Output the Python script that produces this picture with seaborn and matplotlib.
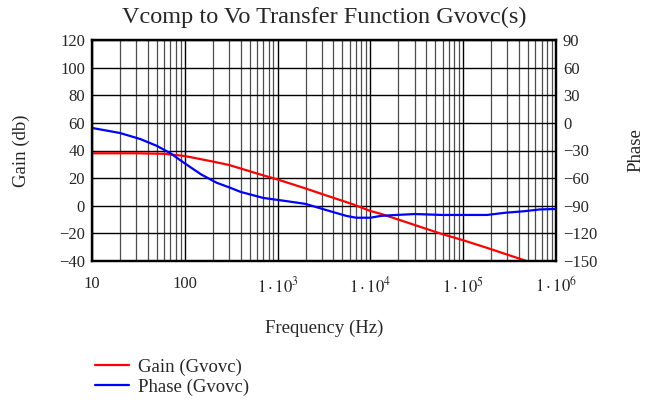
import matplotlib
matplotlib.use('Agg')
import matplotlib.pyplot as plt
import numpy as np
import pandas as pd
import seaborn as sns
from matplotlib.ticker import FixedLocator, NullFormatter

# values
gain_freq = [10, 30, 60, 100, 200, 300, 700, 1000, 2000, 3000, 6500, 1e4, 1.27e4,
             2e4, 5.6e4, 1e5, 1.9e5, 4.8e5, 1e6]
gain_db = [38.0, 38.0, 37.6, 36.0, 32.0, 29.5, 22.0, 19.0, 12.5, 8.5, 1.0, -3.8, -5.7,
           -10.0, -20.0, -25.0, -31.0, -40.0, -46.0]

phase_freq = [10, 20, 33, 50, 70, 100, 150, 220, 300, 400, 700, 1250, 2000, 3700, 5500,
              7000, 1e4, 1.3e4, 1.9e4, 3e4, 6e4, 1.8e5, 2.9e5, 4.5e5, 6.7e5, 1e6]
phase_deg = [-5.5, -11, -17.5, -25, -33, -44, -56, -65, -70, -75, -81.5, -85, -88, -96,
             -101, -103, -103, -101, -100, -99, -100, -100, -97.5, -96, -94, -93.5]

xtick_vals = [10, 100, 1e3, 1e4, 1e5, 1e6]
xtick_labels = ['10', '100', r'$1\cdot10^{3}$', r'$1\cdot10^{4}$', r'$1\cdot10^{5}$', r'$1\cdot10^{6}$']

gain_df = pd.DataFrame({'freq': gain_freq, 'gain': gain_db})
phase_df = pd.DataFrame({'freq': phase_freq, 'phase': phase_deg})

sns.set_style('white')
plt.rcParams['font.family'] = ['Liberation Serif', 'DejaVu Serif']
plt.rcParams['mathtext.fontset'] = 'stix'

fig = plt.figure(figsize=(6.55, 4.04), dpi=100)
ax = fig.add_axes([92 / 655, 1 - 261 / 404, (556 - 92) / 655, (261 - 40) / 404])
ax2 = ax.twinx()

sns.lineplot(data=gain_df, x='freq', y='gain', ax=ax, color='#ff0000', lw=1.6,
             label='Gain (Gvovc)', legend=False)
sns.lineplot(data=phase_df, x='freq', y='phase', ax=ax2, color='#0000ff', lw=1.6,
             label='Phase (Gvovc)', legend=False)

ax.set_xscale('log')
ax.set_xlim(10, 1e6)
ax.set_ylim(-40, 120)
ax.set_yticks(range(-40, 121, 20))
ax2.set_ylim(-150, 90)
ax2.set_yticks(range(-150, 91, 30))

ax.xaxis.set_major_locator(FixedLocator(xtick_vals))
ax.set_xticklabels(xtick_labels)
minors = [m * d for d in [10, 100, 1e3, 1e4, 1e5] for m in range(2, 10)]
ax.xaxis.set_minor_locator(FixedLocator(minors))
ax.xaxis.set_minor_formatter(NullFormatter())

ax.grid(True, which='major', color='black', lw=1.0)
ax.grid(True, which='minor', axis='x', color='0.3', lw=0.9)
ax.set_axisbelow(True)
ax2.grid(False)

for a in (ax, ax2):
    a.tick_params(length=0, labelsize=12, pad=5)
    for s in a.spines.values():
        s.set_color('black')
        s.set_linewidth(1.6)
ax.tick_params(axis='x', pad=11)

ax.set_xlabel('Frequency (Hz)', fontsize=13.5, labelpad=17)
ax.set_ylabel('Gain (db)', fontsize=13.5, labelpad=21)
ax2.set_ylabel('Phase', fontsize=13.5, labelpad=22)
ax.set_title('Vcomp to Vo Transfer Function Gvovc(s)', fontsize=17.5, pad=12)

h1, l1 = ax.get_legend_handles_labels()
h2, l2 = ax2.get_legend_handles_labels()
fig.legend(h1 + h2, l1 + l2, loc='upper left', bbox_to_anchor=(0.145, 0.113),
           frameon=False, fontsize=13.5, handlelength=1.8, handletextpad=0.5,
           labelspacing=0.15, borderpad=0, borderaxespad=0)

fig.savefig('out.png', dpi=100)
